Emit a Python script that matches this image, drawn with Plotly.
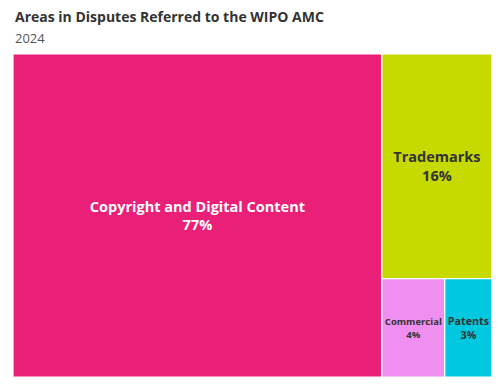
import plotly.graph_objects as go

labels = ["Copyright and Digital Content", "Trademarks", "Commercial", "Patents"]
values = [77, 16, 4, 3]
colors = ["#e91f78", "#c6da00", "#ef8fef", "#00c8de"]
text_colors = ["#ffffff", "#333333", "#333333", "#333333"]

fig = go.Figure(go.Treemap(
    labels=labels,
    parents=[""] * len(labels),
    values=values,
    marker=dict(colors=colors, line=dict(color="#ffffff", width=1.2),
                pad=dict(t=0, l=0, r=0, b=0)),
    texttemplate="<b>%{label}</b><br><b>%{percentRoot:.0%}</b>",
    textposition="middle center",
    textfont=dict(family="Open Sans", size=14.5, color=text_colors),
    hoverinfo="label+value+percent root",
    pathbar=dict(visible=False),
    sort=True,
    tiling=dict(pad=0),
))

# The page body has an 8px default margin, so the figure is sized to fit.
fig.update_layout(
    width=492, height=369,
    margin=dict(l=5, r=8, t=46, b=0),
    paper_bgcolor="#ffffff",
    font=dict(family="Open Sans", color="#333333"),
    annotations=[
        dict(text="<b>Areas in Disputes Referred to the WIPO AMC</b>",
             x=0, y=1 + 37.5 / 323, xref="paper", yref="paper",
             xanchor="left", yanchor="middle", showarrow=False,
             font=dict(family="Open Sans", size=14, color="#333333")),
        dict(text="2024",
             x=0, y=1 + 16.5 / 323, xref="paper", yref="paper",
             xanchor="left", yanchor="middle", showarrow=False,
             font=dict(family="Open Sans", size=13, color="#555555")),
    ],
)

fig.write_html("out.html")
